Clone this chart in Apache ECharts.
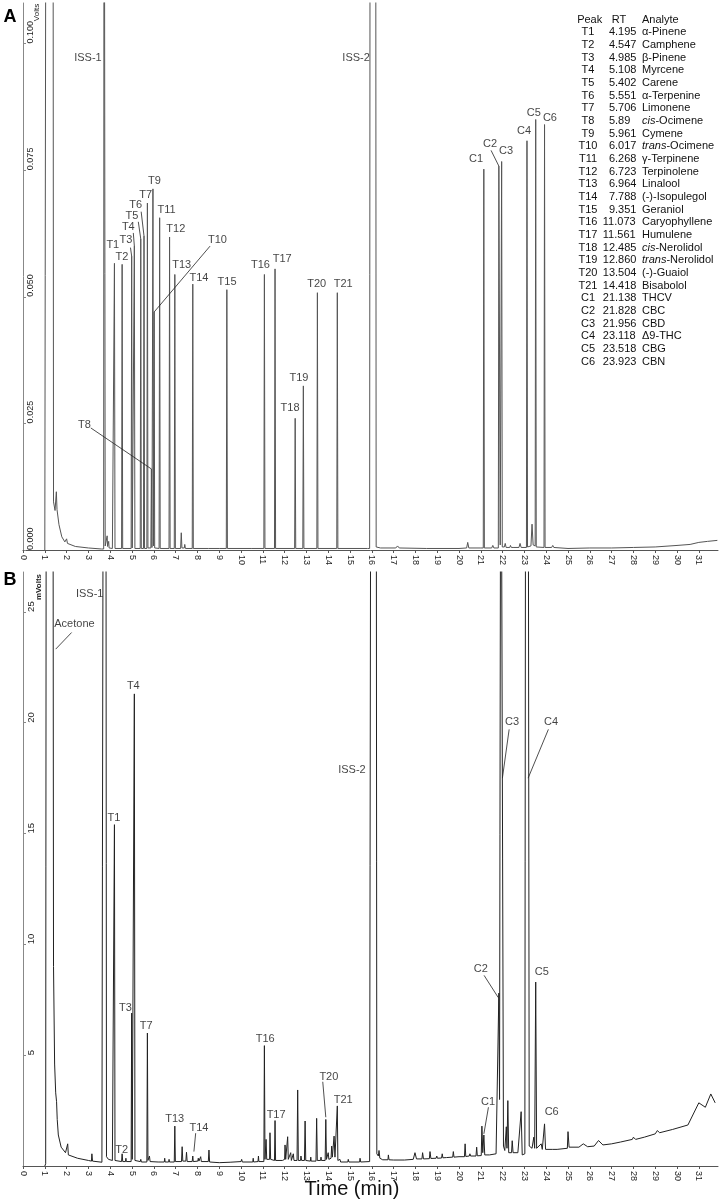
<!DOCTYPE html>
<html><head><meta charset="utf-8">
<script src="https://cdn.jsdelivr.net/npm/echarts@6/dist/echarts.min.js"></script>
<style>html,body{margin:0;padding:0;background:#fff}#c{width:720px;height:1202px}</style>
</head><body><div id="c"></div><script>
// ---------- Panel A trace (time min, Volts) ----------
const solventA = [[1.00,0.0000],[1.05,0.0002],[1.07,0.2000],[1.37,0.2000],[1.40,0.0095],[1.47,0.0078],[1.53,0.0115],[1.56,0.0080],[1.65,0.0050],[1.78,0.0026],[1.92,0.0016],[2.00,0.0022],[2.04,0.0013],[2.40,0.0007],[3.00,0.0004],[3.60,0.0002]];
const iss1A = [[3.70,0.0002],[3.72,0.2000],[3.74,0.2000],[3.77,0.0008],[3.84,0.0010],[3.86,0.0028],[3.88,0.0007],[3.93,0.0017],[3.95,0.0004],[4.10,0.0003]];
const terpenesA = [
[4.170,0.0003],[4.195,0.0566],[4.220,0.0003],
[4.522,0.0003],[4.547,0.0564],[4.572,0.0003],
[4.960,0.0003],[4.985,0.0580],[5.010,0.0004],
[5.083,0.0004],[5.108,0.0600],[5.133,0.0003],
[5.377,0.0003],[5.402,0.0614],[5.427,0.0003],
[5.526,0.0003],[5.551,0.0620],[5.576,0.0003],
[5.681,0.0003],[5.706,0.0685],[5.731,0.0004],
[5.865,0.0004],[5.890,0.0160],[5.915,0.0005],
[5.940,0.0005],[5.961,0.0713],[5.985,0.0008],
[5.995,0.0008],[6.017,0.0470],[6.040,0.0004],
[6.243,0.0003],[6.268,0.0656],[6.293,0.0003],
[6.698,0.0003],[6.723,0.0618],[6.748,0.0003],
[6.939,0.0003],[6.964,0.0544],[6.989,0.0003],
[7.23,0.0003],[7.26,0.0034],[7.29,0.0004],[7.40,0.0004],[7.42,0.0011],[7.45,0.0003],
[7.763,0.0003],[7.788,0.0525],[7.813,0.0003],
[8.50,0.0003],[9.00,0.0003],
[9.326,0.0003],[9.351,0.0514],[9.376,0.0003],
[10.50,0.0003],
[11.048,0.0003],[11.073,0.0544],[11.098,0.0003],
[11.536,0.0003],[11.561,0.0555],[11.586,0.0003],
[12.460,0.0003],[12.485,0.0260],[12.510,0.0003],
[12.835,0.0003],[12.860,0.0324],[12.885,0.0003],
[13.479,0.0003],[13.504,0.0508],[13.529,0.0003],
[14.393,0.0003],[14.418,0.0508],[14.443,0.0003],
[15.80,0.0003]];
const iss2A = [[15.90,0.0003],[15.93,0.2000],[16.17,0.2000],[16.20,0.0006],[16.40,0.0004]];
const middleA = [[17.10,0.0004],[17.18,0.0008],[17.26,0.0004],[18.50,0.0003],[20.00,0.0003],[20.35,0.0004],[20.40,0.0015],[20.45,0.0004],[21.00,0.0004]];
const cannabinoidsA = [
[21.113,0.0004],[21.138,0.0752],[21.163,0.0004],
[21.50,0.0004],[21.55,0.0009],[21.60,0.0004],
[21.803,0.0004],[21.828,0.0758],[21.89,0.0010],[21.956,0.0767],[21.985,0.0006],
[22.08,0.0006],[22.12,0.0013],[22.16,0.0005],[22.33,0.0005],[22.36,0.0009],[22.40,0.0005],
[22.52,0.0005],[22.55,0.0008],[22.58,0.0005],[22.75,0.0005],[22.80,0.0013],[22.85,0.0005],
[23.093,0.0005],[23.118,0.0808],[23.143,0.0006],
[23.30,0.0008],[23.35,0.0051],[23.40,0.0010],
[23.493,0.0008],[23.518,0.0850],[23.543,0.0006],
[23.898,0.0005],[23.923,0.0840],[23.948,0.0005],
[24.25,0.0005],[24.30,0.0009],[24.35,0.0005]];
const tailA = [[25.0,0.0003],[26.0,0.0004],[27.0,0.0004],[28.0,0.0005],[29.0,0.0006],[30.0,0.0009],[30.6,0.0011],[31.0,0.0015],[31.4,0.0017],[31.85,0.0019]];

// ---------- Panel B trace (time min, mVolts) ----------
const solventB = [[1.00,0.00],[1.04,0.10],[1.07,40],[1.37,40],[1.40,9.0],[1.45,4.6],[1.50,3.3],[1.54,2.9],[1.57,2.1],[1.62,1.4],[1.75,0.85],[1.95,0.60],[2.03,0.55],[2.05,1.00],[2.08,0.50],[2.50,0.35],[3.00,0.25],[3.14,0.22],[3.16,0.55],[3.19,0.22],[3.62,0.17]];
const iss1B = [[3.66,0.17],[3.69,40],[3.80,40],[3.83,0.42],[3.92,0.30],[4.10,0.25]];
const terpenesB = [
[4.170,0.25],[4.195,15.4],[4.220,0.25],
[4.52,0.20],[4.547,0.55],[4.575,0.20],
[4.70,0.20],[4.72,0.35],[4.74,0.20],
[4.960,0.20],[4.985,6.90],[5.010,0.30],
[5.085,0.30],[5.108,21.3],[5.135,0.25],
[5.38,0.20],[5.402,0.30],[5.43,0.18],
[5.681,0.18],[5.706,6.00],[5.731,0.25],
[5.78,0.25],[5.80,0.45],[5.83,0.20],
[6.20,0.18],[6.48,0.18],[6.50,0.35],[6.52,0.18],[6.68,0.18],[6.70,0.30],[6.72,0.18],
[6.939,0.18],[6.964,1.80],[6.989,0.20],
[7.27,0.20],[7.30,0.87],[7.33,0.22],
[7.47,0.22],[7.50,0.62],[7.53,0.20],
[7.76,0.20],[7.788,0.45],[7.81,0.20],
[8.02,0.22],[8.04,0.35],[8.07,0.22],[8.13,0.22],[8.15,0.42],[8.18,0.20],
[8.50,0.20],[8.53,0.72],[8.56,0.18],
[9.00,0.15],[9.50,0.17],[10.00,0.20],[10.03,0.30],[10.06,0.18],
[10.54,0.18],[10.56,0.35],[10.58,0.18],[10.78,0.20],[10.80,0.45],[10.82,0.20],
[11.048,0.20],[11.073,5.43],[11.10,0.30],
[11.13,0.30],[11.15,1.20],[11.18,0.30],
[11.31,0.30],[11.33,1.50],[11.36,0.30],
[11.536,0.25],[11.561,2.05],[11.586,0.25],
[11.90,0.25],[12.00,0.30],[12.02,0.95],[12.05,0.30],[12.12,0.30],[12.14,1.32],[12.17,0.30],
[12.26,0.25],[12.28,0.60],[12.31,0.25],[12.38,0.25],[12.40,0.55],[12.43,0.25],
[12.57,0.25],[12.60,3.43],[12.63,0.25],
[12.73,0.25],[12.75,0.45],[12.78,0.25],
[12.91,0.25],[12.94,2.03],[12.97,0.25],
[13.18,0.22],[13.20,0.40],[13.22,0.22],
[13.44,0.22],[13.47,2.15],[13.50,0.25],
[13.65,0.25],[13.67,0.40],[13.69,0.25],
[13.86,0.25],[13.89,2.10],[13.92,0.30],
[13.98,0.30],[14.00,0.60],[14.03,0.30],
[14.13,0.35],[14.16,0.90],[14.19,0.40],
[14.24,0.40],[14.27,1.35],[14.31,0.40],
[14.393,0.35],[14.418,2.71],[14.443,0.25],
[14.52,0.20],[14.54,0.30],[14.57,0.18],
[14.90,0.18],[14.92,0.30],[14.95,0.18],
[15.44,0.18],[15.46,0.35],[15.49,0.18],
[15.90,0.20]];
const iss2B = [[15.93,0.20],[15.96,40],[16.20,40],[16.23,0.55],[16.30,0.45],[16.33,0.70],[16.37,0.35],[16.50,0.28],[16.74,0.28],[16.76,0.50],[16.79,0.28]];
const middleB = [[17.0,0.27],[17.5,0.27],[17.9,0.30],[17.98,0.60],[18.05,0.32],[18.30,0.32],[18.33,0.60],[18.37,0.32],[18.64,0.33],[18.67,0.65],[18.71,0.34],[18.95,0.35],[18.98,0.45],[19.01,0.35],[19.20,0.36],[19.23,0.55],[19.26,0.37],[19.43,0.38],[19.46,0.45],[19.49,0.38],[19.71,0.40],[19.74,0.65],[19.77,0.40],[20.00,0.42],[20.25,0.42],[20.28,1.00],[20.31,0.43],[20.47,0.45],[20.50,0.55],[20.53,0.45],[20.78,0.45],[20.81,0.85],[20.84,0.46],[21.02,0.47],[21.05,1.80],[21.09,0.60],[21.14,1.40],[21.18,0.50],[21.40,0.50],[21.70,0.55]];
const cannabinoidsB = [[21.78,0.60],[21.828,7.80],[21.86,3.00],[21.92,40],[22.00,40],[22.04,0.90],[22.10,0.70],[22.17,1.77],[22.20,0.80],[22.24,2.95],[22.28,0.60],[22.41,0.60],[22.44,1.14],[22.48,0.60],[22.70,0.60],[22.85,2.45],[22.90,0.50],[23.02,0.55],[23.06,40],[23.17,40],[23.22,0.90],[23.35,0.80],[23.43,1.30],[23.47,0.80],[23.518,8.30],[23.56,0.80],[23.65,0.75],[23.77,1.00],[23.82,0.75],[23.923,1.90],[23.97,0.75],[24.30,0.75]];
const tailB = [[24.5,0.75],[24.97,0.80],[25.0,1.55],[25.05,0.85],[25.5,0.85],[25.7,1.00],[25.9,0.87],[26.2,0.90],[26.4,1.15],[26.6,0.95],[27.0,1.00],[27.4,1.08],[27.95,1.20],[28.0,1.30],[28.1,1.20],[28.5,1.30],[29.0,1.45],[29.1,1.60],[29.2,1.50],[29.8,1.65],[30.5,1.85],[31.0,2.85],[31.3,2.65],[31.55,3.25],[31.75,2.85]];

// ---------- Peak table ----------
const peakIds = ['T1','T2','T3','T4','T5','T6','T7','T8','T9','T10','T11','T12','T13','T14','T15','T16','T17','T18','T19','T20','T21','C1','C2','C3','C4','C5','C6'];
const peakRTs = ['4.195','4.547','4.985','5.108','5.402','5.551','5.706','5.89','5.961','6.017','6.268','6.723','6.964','7.788','9.351','11.073','11.561','12.485','12.860','13.504','14.418','21.138','21.828','21.956','23.118','23.518','23.923'];
const analytes = ['α-Pinene','Camphene','β-Pinene','Myrcene','Carene','α-Terpenine','Limonene','{i|cis}-Ocimene','Cymene','{i|trans}-Ocimene','γ-Terpinene','Terpinolene','Linalool','(-)-Isopulegol','Geraniol','Caryophyllene','Humulene','{i|cis}-Nerolidol','{i|trans}-Nerolidol','(-)-Guaiol','Bisabolol','THCV','CBC','CBD','Δ9-THC','CBG','CBN'];

// ---------- Annotations (label anchor in data units) ----------
const labelsA = [[2.98,0.0971,'ISS-1'],[4.12,0.0603,'T1'],[4.54,0.0578,'T2'],[4.72,0.0612,'T3'],[4.83,0.0638,'T4'],[5.00,0.0659,'T5'],[5.17,0.0681,'T6'],[5.63,0.0701,'T7'],[2.82,0.0246,'T8'],[6.03,0.0728,'T9'],[8.92,0.0612,'T10'],[6.59,0.0672,'T11'],[7.01,0.0633,'T12'],[7.28,0.0563,'T13'],[8.07,0.0537,'T14'],[9.36,0.0529,'T15'],[10.89,0.0563,'T16'],[11.89,0.0575,'T17'],[12.25,0.0280,'T18'],[12.66,0.0339,'T19'],[13.47,0.0525,'T20'],[14.69,0.0526,'T21'],[15.28,0.0971,'ISS-2'],[20.78,0.0773,'C1'],[21.42,0.0802,'C2'],[22.16,0.0787,'C3'],[22.98,0.0828,'C4'],[23.43,0.0863,'C5'],[24.17,0.0853,'C6']];
const leadersA = [[[4.93,0.0597],[4.985,0.0580]],[[5.06,0.0626],[5.108,0.0600]],[[5.29,0.0648],[5.402,0.0614]],[[5.42,0.0668],[5.551,0.0620]],[[3.11,0.0241],[5.89,0.0160]],[[8.58,0.0600],[6.017,0.0470]],[[21.47,0.0789],[21.828,0.0758]]];
const labelsB = [[3.06,25.81,'ISS-1'],[2.36,24.45,'Acetone'],[4.17,15.69,'T1'],[4.53,0.72,'T2'],[4.70,7.15,'T3'],[5.06,21.65,'T4'],[5.65,6.33,'T7'],[6.96,2.10,'T13'],[8.07,1.71,'T14'],[11.11,5.72,'T16'],[11.61,2.30,'T17'],[14.03,4.02,'T20'],[14.69,3.00,'T21'],[15.09,17.87,'ISS-2'],[22.43,20.05,'C3'],[24.22,20.05,'C4'],[21.00,8.90,'C2'],[23.80,8.75,'C5'],[21.33,2.90,'C1'],[24.25,2.45,'C6']];
const leadersB = [[[2.23,24.07],[1.50,23.32]],[[7.92,1.48],[7.84,0.65]],[[13.75,3.80],[13.89,2.20]],[[22.30,19.70],[21.99,17.50]],[[24.10,19.70],[23.17,17.50]],[[21.15,8.60],[21.80,7.60]],[[21.35,2.65],[21.14,1.45]]];

// ---------- Chart ----------
const FF = 'Liberation Sans, Arial, Helvetica, sans-serif';
const traceA = [].concat(solventA, iss1A, terpenesA, iss2A, middleA, cannabinoidsA, tailA);
const traceB = [].concat(solventB, iss1B, terpenesB, iss2B, middleB, cannabinoidsB, tailB);

function xAxisCfg(gi) {
  return {type:'value', gridIndex:gi, min:0, max:31.88, interval:1,
    axisLine:{lineStyle:{color:'#555', width:1}},
    axisTick:{length:3, lineStyle:{color:'#555'}},
    axisLabel:{rotate:-90, margin:5, fontSize:9, color:'#222', fontFamily:FF, showMaxLabel:false},
    splitLine:{show:false}};
}
function leaderMark(list) {
  return {symbol:['none','none'], silent:true, animation:false, label:{show:false},
    lineStyle:{color:'#222', width:0.8, type:'solid'},
    emphasis:{disabled:true},
    data:list.map(p => [{coord:p[0]},{coord:p[1]}])};
}
function labelSeries(xi, list) {
  return {type:'scatter', xAxisIndex:xi, yAxisIndex:xi, symbolSize:1, silent:true,
    itemStyle:{color:'rgba(0,0,0,0)'},
    label:{show:true, position:'inside', formatter:p => p.data[2], color:'#111', fontSize:11, fontFamily:FF},
    data:list};
}

const graphics = [];
graphics.push({type:'text', x:10, y:17, style:{text:'A', font:'bold 18px '+FF, fill:'#000', align:'center', verticalAlign:'middle', textAlign:'center', textVerticalAlign:'middle'}});
graphics.push({type:'text', x:10, y:580, style:{text:'B', font:'bold 18px '+FF, fill:'#000', align:'center', verticalAlign:'middle', textAlign:'center', textVerticalAlign:'middle'}});
graphics.push({type:'text', x:36.5, y:12.5, rotation:Math.PI/2, style:{text:'Volts', font:'8px '+FF, fill:'#222', align:'center', verticalAlign:'middle', textAlign:'center', textVerticalAlign:'middle'}});
graphics.push({type:'text', x:38.3, y:587, rotation:Math.PI/2, style:{text:'mVolts', font:'bold 8px '+FF, fill:'#222', align:'center', verticalAlign:'middle', textAlign:'center', textVerticalAlign:'middle'}});
graphics.push({type:'text', x:352, y:1189, style:{text:'Time (min)', font:'20px '+FF, fill:'#111', align:'center', verticalAlign:'middle', textAlign:'center', textVerticalAlign:'middle'}});
function tx(x, y, text, align, rich) {
  const st = {text:text, font:'11px '+FF, fill:'#111', align:align, verticalAlign:'middle', textAlign:align, textVerticalAlign:'middle'};
  if (rich) st.rich = {i:{fontStyle:'italic', fontSize:11, fontFamily:FF, fill:'#111', color:'#111'}};
  return {type:'text', x:x, y:y, style:st};
}
graphics.push(tx(589.7, 20, 'Peak', 'center'));
graphics.push(tx(619, 20, 'RT', 'center'));
graphics.push(tx(642, 20, 'Analyte', 'left'));
peakIds.forEach((id, i) => {
  const y = 32.3 + 12.67 * i;
  graphics.push(tx(588, y, id, 'center'));
  const intLen = peakRTs[i].split('.')[0].length;
  graphics.push(tx(615 - intLen * 6.1, y, peakRTs[i], 'left'));
  graphics.push(tx(642, y, analytes[i], 'left', true));
});

const option = {
  animation:false,
  backgroundColor:'#fff',
  grid:[{left:23, right:2, top:3, height:547}, {left:23, right:2, top:572, height:594}],
  xAxis:[xAxisCfg(0), xAxisCfg(1)],
  yAxis:[
    {type:'value', gridIndex:0, min:0, max:0.108, interval:0.025,
      axisLine:{show:true, lineStyle:{color:'#888', width:1}},
      axisTick:{show:true, inside:true, length:3, lineStyle:{color:'#888'}},
      axisLabel:{inside:true, rotate:90, align:'left', verticalAlign:'top', margin:3, fontSize:9, color:'#222', fontFamily:FF, formatter:v => v.toFixed(3), showMaxLabel:false},
      splitLine:{show:false}},
    {type:'value', gridIndex:1, min:0, max:26.8, interval:5,
      axisLine:{show:true, lineStyle:{color:'#888', width:1}},
      axisTick:{show:true, inside:true, length:3, lineStyle:{color:'#888'}},
      axisLabel:{inside:true, rotate:90, align:'left', verticalAlign:'top', margin:3, fontSize:9.5, color:'#222', fontFamily:FF, showMaxLabel:false, showMinLabel:false},
      splitLine:{show:false}}
  ],
  series:[
    {type:'line', xAxisIndex:0, yAxisIndex:0, data:traceA, symbol:'none', showSymbol:false, clip:true, silent:true,
      lineStyle:{color:'#555', width:1}, markLine:leaderMark(leadersA)},
    labelSeries(0, labelsA),
    {type:'line', xAxisIndex:1, yAxisIndex:1, data:traceB, symbol:'none', showSymbol:false, clip:true, silent:true,
      lineStyle:{color:'#222', width:1}, markLine:leaderMark(leadersB)},
    labelSeries(1, labelsB)
  ],
  graphic:graphics
};
const chart = echarts.init(document.getElementById('c'), null, {renderer:'canvas'});
chart.setOption(option);
</script></body></html>
